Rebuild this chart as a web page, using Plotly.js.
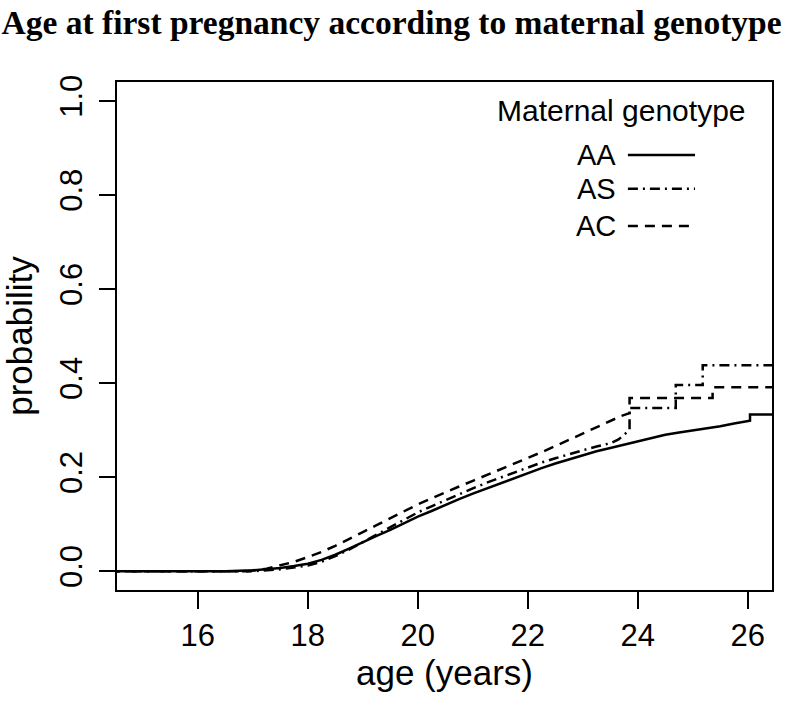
<!DOCTYPE html>
<html>
<head>
<meta charset="utf-8">
<script src="https://cdn.plot.ly/plotly-3.0.1.min.js"></script>
<style>html,body{margin:0;padding:0;background:#fff;}#chart{width:786px;height:705px;}</style>
</head>
<body>
<div id="chart"></div>
<script>
// Age (years) and cumulative probability of first pregnancy, by maternal genotype
// (repeated ages mark the visible vertical steps of the survival-type curves)
const ageAA = [14.4,16.5,17.0,17.25,17.5,17.75,18.0,18.25,18.5,18.75,19.0,19.25,19.5,19.75,20.0,20.25,20.5,20.75,21.0,21.25,21.5,21.75,22.0,22.25,22.5,22.75,23.0,23.25,23.5,23.75,24.0,24.25,24.5,24.75,25.0,25.25,25.5,25.75,26.04,26.04,26.6];
const probAA = [0,0,0.002,0.004,0.007,0.011,0.016,0.024,0.035,0.048,0.062,0.075,0.088,0.102,0.116,0.128,0.141,0.153,0.165,0.176,0.187,0.198,0.209,0.219,0.229,0.238,0.247,0.255,0.262,0.269,0.276,0.283,0.29,0.295,0.299,0.303,0.308,0.314,0.32,0.333,0.333];

const ageAS = [14.4,17.0,17.5,17.75,18.0,18.25,18.5,18.75,19.0,19.25,19.5,19.75,20.0,20.25,20.5,20.75,21.0,21.25,21.5,21.75,22.0,22.25,22.5,22.75,23.0,23.25,23.5,23.65,23.75,23.85,23.85,24.69,24.69,25.18,25.18,26.6];
const probAS = [0,0,0.004,0.008,0.012,0.02,0.032,0.046,0.062,0.078,0.094,0.11,0.125,0.138,0.151,0.164,0.176,0.188,0.199,0.21,0.221,0.231,0.24,0.249,0.257,0.265,0.272,0.28,0.29,0.30,0.347,0.347,0.396,0.396,0.438,0.438];

const ageAC = [14.4,16.9,17.25,17.5,17.75,18.0,18.25,18.5,18.75,19.0,19.25,19.5,19.75,20.0,20.25,20.5,20.75,21.0,21.25,21.5,21.75,22.0,22.25,22.5,22.75,23.0,23.25,23.5,23.7,23.85,23.85,25.36,25.36,26.6];
const probAC = [0,0,0.005,0.012,0.02,0.03,0.041,0.054,0.068,0.083,0.098,0.113,0.128,0.142,0.155,0.168,0.18,0.192,0.204,0.216,0.228,0.24,0.253,0.266,0.279,0.292,0.305,0.318,0.33,0.336,0.368,0.368,0.391,0.391];

const genotypes = ["AA","AS","AC"];
const xTicks = [16,18,20,22,24,26];
const yTicks = [0,0.2,0.4,0.6,0.8,1.0];

const FONT = "Liberation Sans, Arial, Helvetica, sans-serif";
const dashes = {AA:"solid", AS:"10px,5px,2px,5px", AC:"10px,7px"};

const series = [[ageAA,probAA],[ageAS,probAS],[ageAC,probAC]];
const traces = genotypes.map((g,i)=>({
  x: series[i][0], y: series[i][1], type:"scatter", mode:"lines", name:g,
  line:{shape:"linear", color:"#000", width:2.5, dash:dashes[g]},
  showlegend:false, hoverinfo:"x+y+name"
}));

// hand-drawn style legend (text left, line sample right)
const legX0 = 23.82, legX1 = 25.04;
const legY = [0.885, 0.813, 0.734];
const annotations = [{
  x: 23.71, y: 0.979, xref:"x", yref:"y", text:"Maternal genotype", showarrow:false,
  font:{family:FONT, size:30, color:"#000"}, xanchor:"center", yanchor:"middle"
}];
const shapes = [];
genotypes.forEach((g,i)=>{
  annotations.push({x:23.64, y:legY[i], xref:"x", yref:"y", text:g, showarrow:false,
    font:{family:FONT, size:29, color:"#000"}, xanchor:"right", yanchor:"middle"});
  shapes.push({type:"line", xref:"x", yref:"y", x0:legX0, x1:legX1, y0:legY[i], y1:legY[i],
    line:{color:"#000", width:2.5, dash:dashes[g]}});
});

const layout = {
  width:786, height:705,
  margin:{l:117, r:14, t:82, b:115},
  paper_bgcolor:"#fff", plot_bgcolor:"#fff",
  title:{text:"Age at first pregnancy according to maternal genotype",
    font:{family:"Liberation Serif, Times New Roman, serif", size:33.5, color:"#000", weight:"bold"},
    x:0.002, xanchor:"left", xref:"container", y:0.968, yanchor:"middle", yref:"container"},
  xaxis:{range:[14.53,26.44], tickvals:xTicks, ticktext:xTicks.map(String),
    showgrid:false, zeroline:false, showline:true, mirror:true, linecolor:"#000", linewidth:2,
    ticks:"outside", ticklen:17, tickwidth:2, tickcolor:"#000", ticklabelstandoff:0,
    tickfont:{family:FONT, size:31, color:"#000"},
    title:{text:"age (years)", font:{family:FONT, size:35, color:"#000"}, standoff:0}},
  yaxis:{range:[-0.04,1.04], tickvals:yTicks, ticktext:yTicks.map(v=>v.toFixed(1)),
    tickangle:-90,
    showgrid:false, zeroline:false, showline:true, mirror:true, linecolor:"#000", linewidth:2,
    ticks:"outside", ticklen:16, tickwidth:2, tickcolor:"#000", ticklabelstandoff:5,
    tickfont:{family:FONT, size:31, color:"#000"},
    title:{text:"probability", font:{family:FONT, size:35, color:"#000"}, standoff:14}},
  annotations: annotations, shapes: shapes
};

Plotly.newPlot("chart", traces, layout, {displayModeBar:false, staticPlot:true});
</script>
</body>
</html>
